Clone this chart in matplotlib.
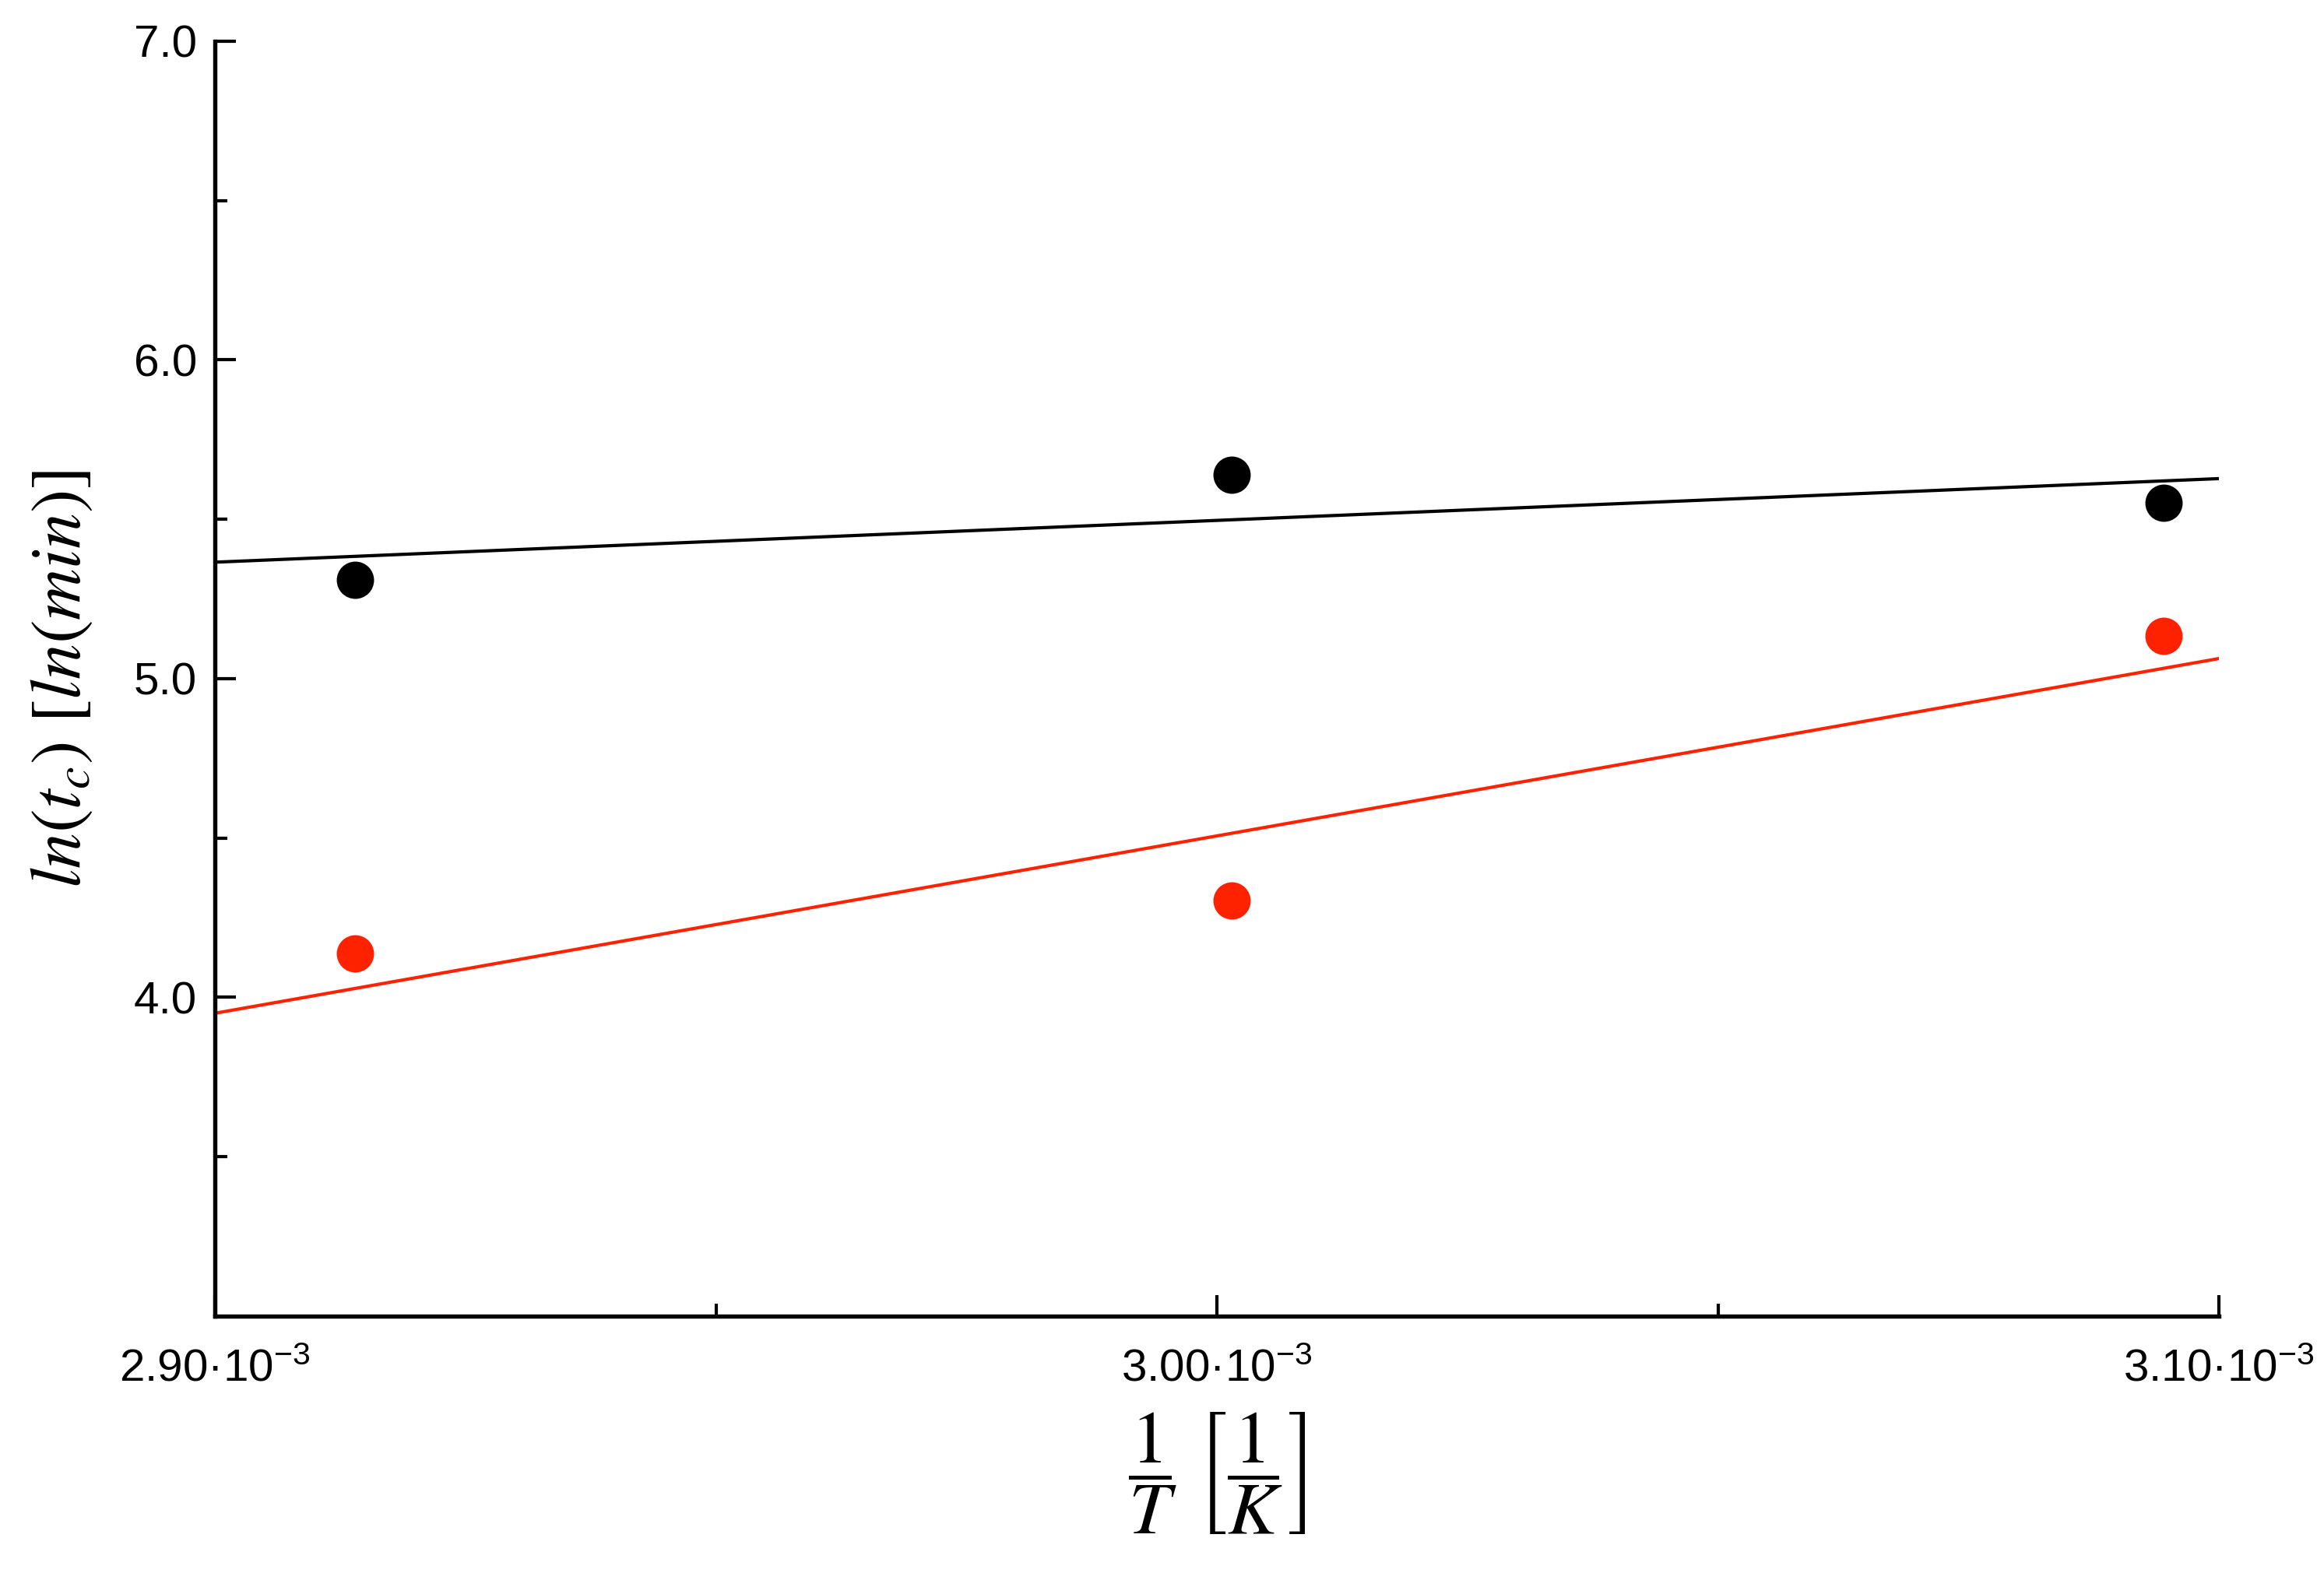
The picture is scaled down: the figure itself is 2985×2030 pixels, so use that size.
import numpy as np
import matplotlib
matplotlib.use("Agg")
import matplotlib.pyplot as plt
from matplotlib.ticker import FixedLocator, FuncFormatter

plt.rcParams['font.family'] = ['Liberation Sans', 'DejaVu Sans']
plt.rcParams['mathtext.fontset'] = 'stix'

# 1/T values (1/K) and ln(t_c) for the two series
inv_T = [2.914e-3, 3.0015e-3, 3.0945e-3]
ln_tc_black = [5.311, 5.640, 5.552]
ln_tc_red = [4.137, 4.304, 5.135]

x_lim = [2.90e-3, 3.10e-3]
y_lim = [3.0, 7.0]
x_major = [2.90e-3, 3.00e-3, 3.10e-3]
x_minor = [2.95e-3, 3.05e-3]
y_major = [4.0, 5.0, 6.0, 7.0]
y_minor = [3.5, 4.5, 5.5, 6.5]

black = '#000000'
red = '#ff2200'


def fmt_x(v, pos):
    return f"{v * 1e3:.2f}·10$^{{\\mathregular{{-3}}}}$"


def main():
    fig = plt.figure(figsize=(9.95, 6.7667), dpi=300)
    ax = fig.add_axes([0.0925, 0.167, 0.8623, 0.8069])

    x = np.array(inv_T)
    x_fit = np.array(x_lim)
    for y, c in [(ln_tc_black, black), (ln_tc_red, red)]:
        k, b = np.polyfit(x, np.array(y), 1)
        ax.plot(x_fit, k * x_fit + b, color=c, lw=1.0, zorder=2)
        ax.plot(x, y, 'o', color=c, ms=11.5, mec='none', zorder=3, clip_on=False)

    ax.set_xlim(x_lim)
    ax.set_ylim(y_lim)
    ax.spines['top'].set_visible(False)
    ax.spines['right'].set_visible(False)
    for s in ['left', 'bottom']:
        ax.spines[s].set_linewidth(1.3)

    ax.xaxis.set_major_locator(FixedLocator(x_major))
    ax.xaxis.set_minor_locator(FixedLocator(x_minor))
    ax.yaxis.set_major_locator(FixedLocator(y_major))
    ax.yaxis.set_minor_locator(FixedLocator(y_minor))
    ax.xaxis.set_major_formatter(FuncFormatter(fmt_x))
    ax.yaxis.set_major_formatter(FuncFormatter(lambda v, p: f"{v:.1f}"))

    ax.tick_params(which='major', direction='in', length=6.5, width=1.0, labelsize=14)
    ax.tick_params(which='minor', direction='in', length=3.8, width=1.0)
    ax.tick_params(axis='x', which='major', pad=10)
    ax.tick_params(axis='y', which='major', pad=5.5)

    ax.set_xlabel(r"$\dfrac{1}{T}\ \left[\dfrac{1}{K}\right]$", fontsize=23, labelpad=6)
    ax.set_ylabel(r"$ln(t_c)\ [ln(min)]$", fontsize=22, labelpad=12)

    fig.savefig("out.png", dpi=300)


if __name__ == "__main__":
    main()
